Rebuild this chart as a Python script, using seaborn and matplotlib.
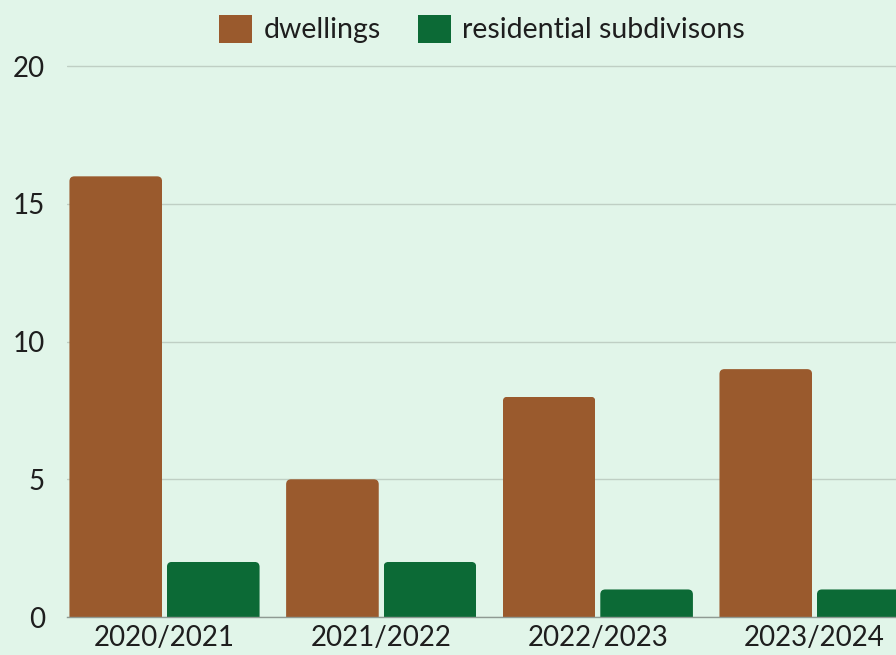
import matplotlib
matplotlib.use("Agg")
import matplotlib.pyplot as plt
from matplotlib.patches import FancyBboxPatch
import seaborn as sns
import pandas as pd

# Approved applications per financial year
years = ["2020/2021", "2021/2022", "2022/2023", "2023/2024"]
dwellings = [16, 5, 8, 9]
subdivisions = [2, 2, 1, 1]
series_names = ["dwellings", "residential subdivisons"]
series_colors = ["#9a5a2d", "#0c6a36"]
y_ticks = [0, 5, 10, 15, 20]

df = pd.DataFrame({
    "year": years * 2,
    "count": dwellings + subdivisions,
    "type": [series_names[0]] * len(years) + [series_names[1]] * len(years),
})

bg = "#e1f5e9"
sns.set_theme(style="white")
plt.rcParams["font.family"] = ["Lato", "DejaVu Sans"]

W, H = 896, 655
fig = plt.figure(figsize=(W / 100, H / 100), dpi=100, facecolor=bg)
ax = fig.add_axes([67 / W, 38 / H, 1 - 67 / W, 1 - 38 / H - 40 / H])
ax.set_facecolor(bg)

sns.barplot(data=df, x="year", y="count", hue="type", order=years,
            hue_order=series_names, palette=series_colors,
            width=0.9, gap=0.05, ax=ax, legend=True, saturation=1,
            linewidth=0)

ax.set_ylim(0, 20.95)
ax.set_xlim(-0.45, 3.376)

# Round the top corners of each bar by clipping it to a rounded box that
# reaches below the baseline.
x0, x1 = ax.get_xlim()
y0, y1 = ax.get_ylim()
bbox = ax.get_position()
px_x = bbox.width * W / (x1 - x0)
px_y = bbox.height * H / (y1 - y0)
radius_px = 5
for p in ax.patches:
    w, h = p.get_width(), p.get_height()
    if not (w and h):
        continue
    extra = 2 * radius_px / px_y
    clip = FancyBboxPatch((p.get_x(), p.get_y() - extra), w, h + extra,
                          boxstyle=f"round,pad=0,rounding_size={radius_px / px_x}",
                          mutation_aspect=px_x / px_y,
                          transform=ax.transData, facecolor="none",
                          edgecolor="none")
    p.set_clip_path(clip)

ax.set_yticks(y_ticks)
ax.set_yticklabels([str(t) for t in y_ticks])
ax.grid(axis="y", color="#bfcfc4", linewidth=1)
ax.set_axisbelow(True)
for side in ["top", "right", "left"]:
    ax.spines[side].set_visible(False)
ax.spines["bottom"].set_color("#8f9a93")
ax.spines["bottom"].set_linewidth(1)
ax.tick_params(axis="both", length=0, labelsize=20, colors="#1e1e1e")
ax.tick_params(axis="y", pad=16)
ax.tick_params(axis="x", pad=6)
ax.set_xlabel("")
ax.set_ylabel("")

handles, labels = ax.get_legend_handles_labels()
ax.legend_.remove()
fig.legend(handles, labels, loc="upper center", bbox_to_anchor=(0.538, 1.008),
           ncol=2, frameon=False, fontsize=20.5, handlelength=1.15,
           handleheight=1.15, handletextpad=0.4, columnspacing=1.3,
           labelcolor="#1e1e1e", borderaxespad=0.3)

fig.savefig("out.png", dpi=100, facecolor=bg)
